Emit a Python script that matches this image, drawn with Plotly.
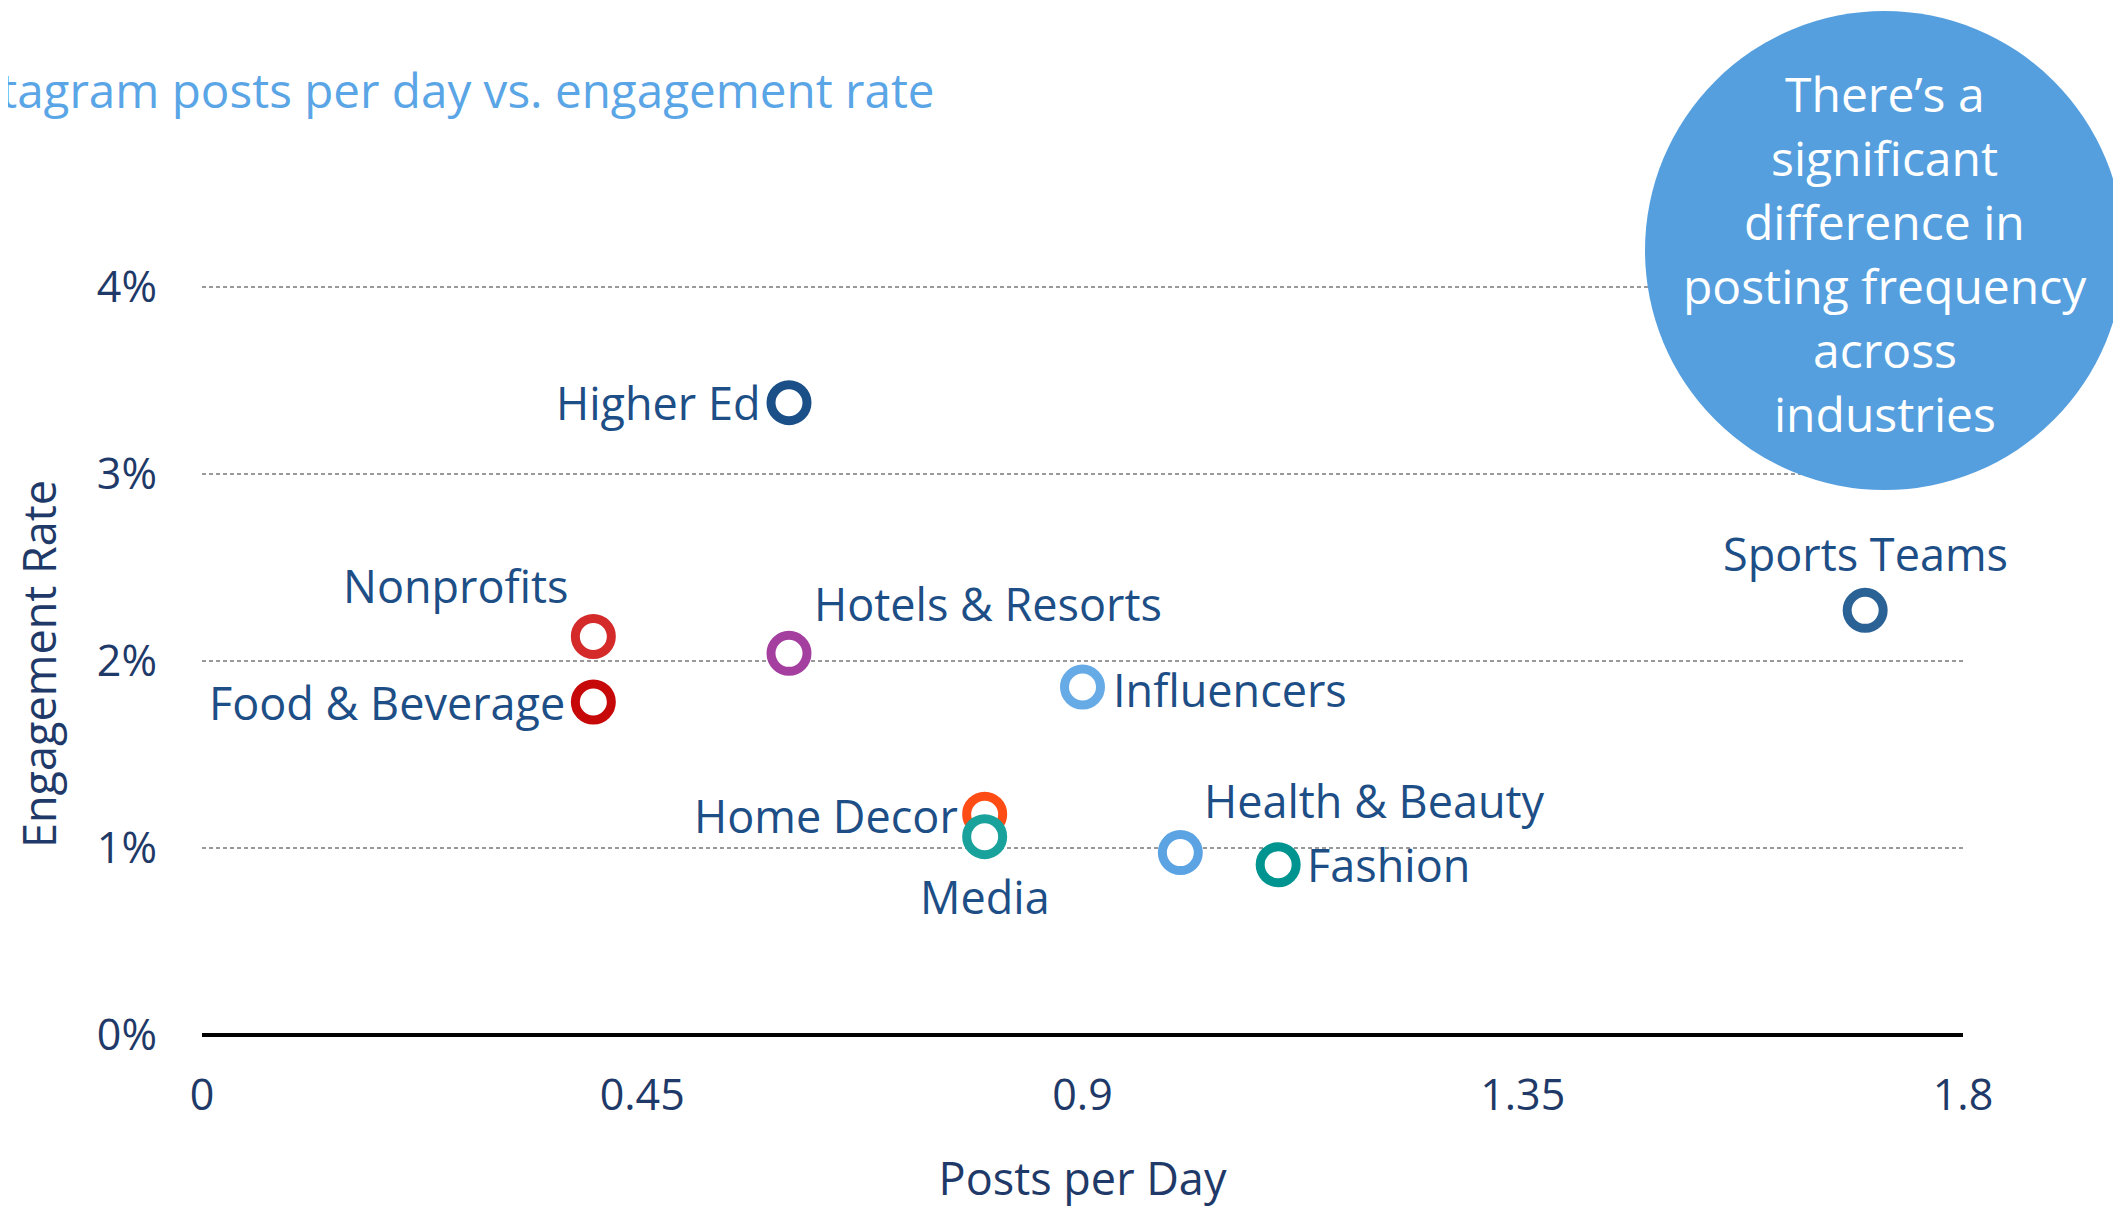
import plotly.graph_objects as go

# ---- data ----
industries = ["Higher Ed", "Nonprofits", "Food & Beverage", "Hotels & Resorts", "Influencers",
              "Home Decor", "Media", "Health & Beauty", "Fashion", "Sports Teams"]
posts_per_day = [0.60, 0.40, 0.40, 0.60, 0.90, 0.80, 0.80, 1.00, 1.10, 1.70]
engagement_rate = [3.38, 2.13, 1.78, 2.04, 1.86, 1.18, 1.06, 0.975, 0.91, 2.27]

x_ticks = [0, 0.45, 0.9, 1.35, 1.8]
x_tick_labels = ["0", "0.45", "0.9", "1.35", "1.8"]
y_ticks = [0, 1, 2, 3, 4]
y_tick_labels = ["0%", "1%", "2%", "3%", "4%"]

title_text = "Instagram posts per day vs. engagement rate"
callout_lines = ["There’s a", "significant", "difference in",
                 "posting frequency", "across", "industries"]

# ---- styles ----
colors = ["#1b4f88", "#d42a2a", "#c70808", "#a43fa0", "#66aae6",
          "#ff4c14", "#19a19c", "#5ca3e4", "#009490", "#2b6296"]
# label placement: (xanchor, yanchor, xshift, yshift)
label_place = {
    "Higher Ed": ("right", "middle", -27, 0),
    "Nonprofits": ("right", "middle", -22, 51),
    "Food & Beverage": ("right", "middle", -26, 0),
    "Hotels & Resorts": ("left", "middle", 23, 50),
    "Influencers": ("left", "middle", 28, -2),
    "Home Decor": ("right", "middle", -25, -1),
    "Media": ("center", "middle", 0, -60),
    "Health & Beauty": ("left", "middle", 22, 52),
    "Fashion": ("left", "middle", 27, 0),
    "Sports Teams": ("center", "middle", 0, 57),
}

FONT = "Open Sans"
LABEL_COLOR = "#1d4e86"
AXIS_COLOR = "#1f3a68"

# figure sits inside the page body (8px default margin)
W, H = 2113, 1200
ML, MR, MT, MB = 194, 158, 260, 173
PW, PH = W - ML - MR, H - MT - MB


def px_to_paper_x(px):
    return (px - ML) / PW


def px_to_paper_y(py):
    return (H - MB - py) / PH


fig = go.Figure()
fig.add_trace(go.Scatter(
    x=posts_per_day, y=engagement_rate, mode="markers",
    marker=dict(symbol="circle", size=36, color="white",
                line=dict(color=colors, width=9)),
    hoverinfo="skip", showlegend=False, cliponaxis=False,
))

annotations = []
for name, xv, yv in zip(industries, posts_per_day, engagement_rate):
    xa, ya, xs, ys = label_place[name]
    annotations.append(dict(
        x=xv, y=yv, xref="x", yref="y", text=name, showarrow=False,
        xanchor=xa, yanchor=ya, xshift=xs, yshift=ys,
        font=dict(family=FONT, size=45, color=LABEL_COLOR),
    ))

# title (partly off the left edge, as in the reference)
annotations.append(dict(
    x=px_to_paper_x(929), y=px_to_paper_y(81), xref="paper", yref="paper",
    text=title_text, showarrow=False, xanchor="right", yanchor="middle",
    font=dict(family=FONT, size=47.6, color="#5aa5e6"),
))

# y axis title
annotations.append(dict(
    x=px_to_paper_x(30), y=px_to_paper_y(656), xref="paper", yref="paper",
    text="Engagement Rate", showarrow=False, textangle=-90,
    xanchor="center", yanchor="middle",
    font=dict(family=FONT, size=45, color=AXIS_COLOR),
))

# callout circle
cx, cy, r = 1876.5, 242.5, 239.5
shapes = [dict(
    type="circle", xref="paper", yref="paper", layer="above",
    x0=px_to_paper_x(cx - r), x1=px_to_paper_x(cx + r),
    y0=px_to_paper_y(cy + r), y1=px_to_paper_y(cy - r),
    fillcolor="#559fdf", line=dict(width=0),
)]
line_gap = 63.9
text_cy = 245.5
n = len(callout_lines)
for i, line in enumerate(callout_lines):
    ly = text_cy + (i - (n - 1) / 2) * line_gap
    annotations.append(dict(
        x=px_to_paper_x(cx), y=px_to_paper_y(ly), xref="paper", yref="paper",
        text=line, showarrow=False, xanchor="center", yanchor="middle",
        font=dict(family=FONT, size=48, color="white"),
    ))

fig.update_layout(
    width=W, height=H,
    margin=dict(l=ML, r=MR, t=MT, b=MB, pad=0),
    paper_bgcolor="white", plot_bgcolor="white",
    font=dict(family=FONT, color=AXIS_COLOR),
    annotations=annotations, shapes=shapes,
    xaxis=dict(
        range=[0, 1.8], tickvals=x_ticks, ticktext=x_tick_labels,
        showgrid=False, zeroline=False, showline=False, ticks="",
        tickfont=dict(family=FONT, size=43, color=AXIS_COLOR),
        ticklabelstandoff=31,
        title=dict(text="Posts per Day", standoff=48,
                   font=dict(family=FONT, size=45, color=AXIS_COLOR)),
        automargin=False,
    ),
    yaxis=dict(
        range=[0, 4.1], tickvals=y_ticks, ticktext=y_tick_labels,
        showgrid=True, gridcolor="#999999", gridwidth=2, griddash="4px,3px",
        zeroline=True, zerolinecolor="#000000", zerolinewidth=3.5,
        showline=False, ticks="",
        tickfont=dict(family=FONT, size=43, color=AXIS_COLOR),
        ticklabelstandoff=44,
        automargin=False,
    ),
)

fig.write_html("out.html")
